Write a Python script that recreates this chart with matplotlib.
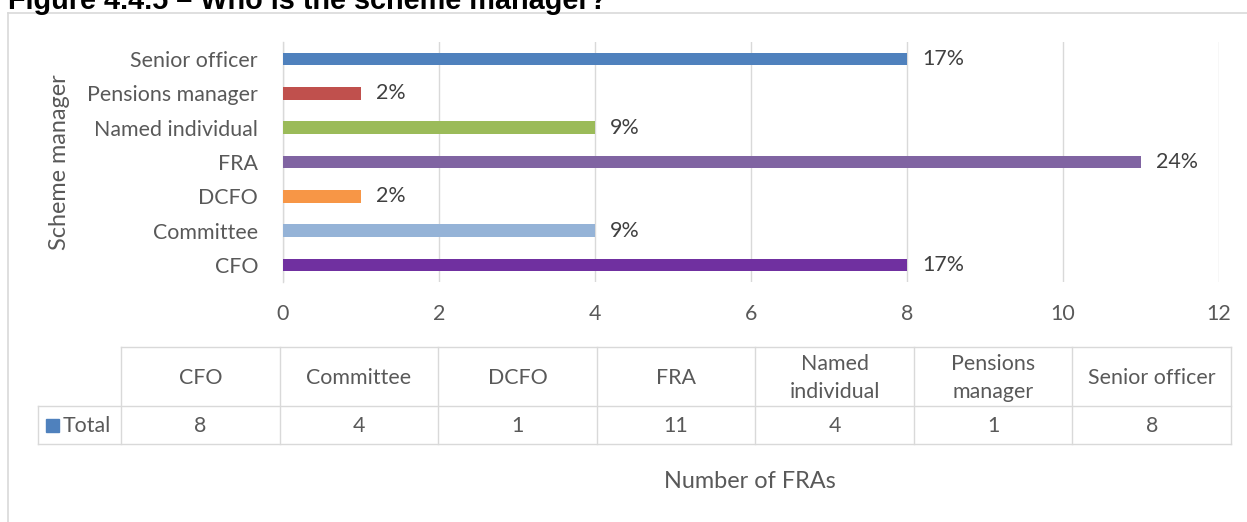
import matplotlib
matplotlib.use("Agg")
import matplotlib.pyplot as plt
from matplotlib.patches import Rectangle

categories = ["CFO", "Committee", "DCFO", "FRA", "Named individual", "Pensions manager", "Senior officer"]
header_labels = ["CFO", "Committee", "DCFO", "FRA", "Named\nindividual", "Pensions\nmanager", "Senior officer"]
values = [8, 4, 1, 11, 4, 1, 8]
pct_labels = ["17%", "9%", "2%", "24%", "9%", "2%", "17%"]
colors = ["#7030A0", "#95B3D7", "#F79646", "#8064A2", "#9BBB59", "#C0504D", "#4F81BD"]
xticks = [0, 2, 4, 6, 8, 10, 12]
series_name = "Total"
title = "Figure 4.4.5 \u2013 Who is the scheme manager?"
ylabel = "Scheme manager"
xlabel = "Number of FRAs"

W, H = 1247, 522
FONT = "Lato"
TXT = "#595959"
GRID = "#D9D9D9"

fig = plt.figure(figsize=(W / 100, H / 100), dpi=100)
renderer = fig.canvas.get_renderer()


def fit(fs0, text, family, target, weight="normal"):
    t = fig.text(0, 0, text, fontsize=fs0, family=family, fontweight=weight)
    w = t.get_window_extent(renderer=renderer).width
    t.remove()
    return fs0 * target / w


FS = fit(14, "Senior officer", FONT, 128)
FS_T = fit(16, xlabel, FONT, 173)
FS_TITLE = fit(20, title, "Liberation Sans", 599, "bold")


def fx(px):
    return px / W


def fy(py):
    return 1 - py / H


# bar axes
ax = fig.add_axes([fx(283), fy(282), fx(1219) - fx(283), fy(42) - fy(282)])
ypos = list(range(len(categories)))
ax.barh(ypos, values, height=0.37, color=colors, zorder=3)
ax.set_xlim(0, 12)
ax.set_ylim(-0.5, len(categories) - 0.5)
ax.set_xticks(xticks)
ax.set_xticklabels([str(t) for t in xticks], fontsize=FS, color=TXT, family=FONT)
ax.set_yticks(ypos)
ax.set_yticklabels(categories, fontsize=FS, color=TXT, family=FONT)
ax.tick_params(axis="both", length=0)
ax.tick_params(axis="x", pad=16)
ax.tick_params(axis="y", pad=18)
ax.grid(axis="x", color=GRID, linewidth=1, zorder=0)
for s in ["top", "right", "bottom"]:
    ax.spines[s].set_visible(False)
ax.spines["left"].set_color(GRID)
ax.spines["left"].set_linewidth(1)
for y, v, lab in zip(ypos, values, pct_labels):
    ax.text(v + 0.19, y, lab, va="center", ha="left", fontsize=FS, color="#404040", family=FONT)

# overlay axes in pixel coords
ov = fig.add_axes([0, 0, 1, 1])
ov.set_xlim(0, W)
ov.set_ylim(H, 0)
ov.axis("off")

ov.text(60, 162, ylabel, rotation=90, ha="center", va="center", fontsize=FS_T,
        color=TXT, family=FONT)

# outer border
ov.plot([8, 8], [13, H + 5], color=GRID, lw=1.2)
ov.plot([8, W + 5], [13, 13], color=GRID, lw=1.2)

# title
fig.text(fx(8), fy(9), title, fontsize=FS_TITLE, fontweight="bold",
         family="Liberation Sans", color="black", va="baseline", ha="left")

# data table
tl, tr = 121, 1231
leftc = 38
top, mid, bot = 347, 406, 444
ncol = len(categories)
cw = (tr - tl) / ncol
tc = "#D9D9D9"
ov.plot([tl, tr], [top, top], color=tc, lw=1)
ov.plot([leftc, tr], [mid, mid], color=tc, lw=1)
ov.plot([leftc, tr], [bot, bot], color=tc, lw=1)
ov.plot([leftc, leftc], [mid, bot], color=tc, lw=1)
for i in range(ncol + 1):
    x = tl + i * cw
    ov.plot([x, x], [top, bot], color=tc, lw=1)
for i, (h, v) in enumerate(zip(header_labels, values)):
    cx = tl + (i + 0.5) * cw
    ov.text(cx, (top + mid) / 2 + 2, h, ha="center", va="center", fontsize=FS, color=TXT, family=FONT,
            linespacing=1.5)
    ov.text(cx, (mid + bot) / 2 + 1, str(v), ha="center", va="center", fontsize=FS, color=TXT, family=FONT)
ov.add_patch(Rectangle((46, 419), 13, 13, color=colors[-1]))
ov.text(63, (mid + bot) / 2 + 1, series_name, ha="left", va="center", fontsize=FS, color=TXT, family=FONT)

# x-axis title
ov.text(750, 481, xlabel, ha="center", va="center", fontsize=FS_T, color=TXT, family=FONT)

fig.savefig("out.png", dpi=100)
